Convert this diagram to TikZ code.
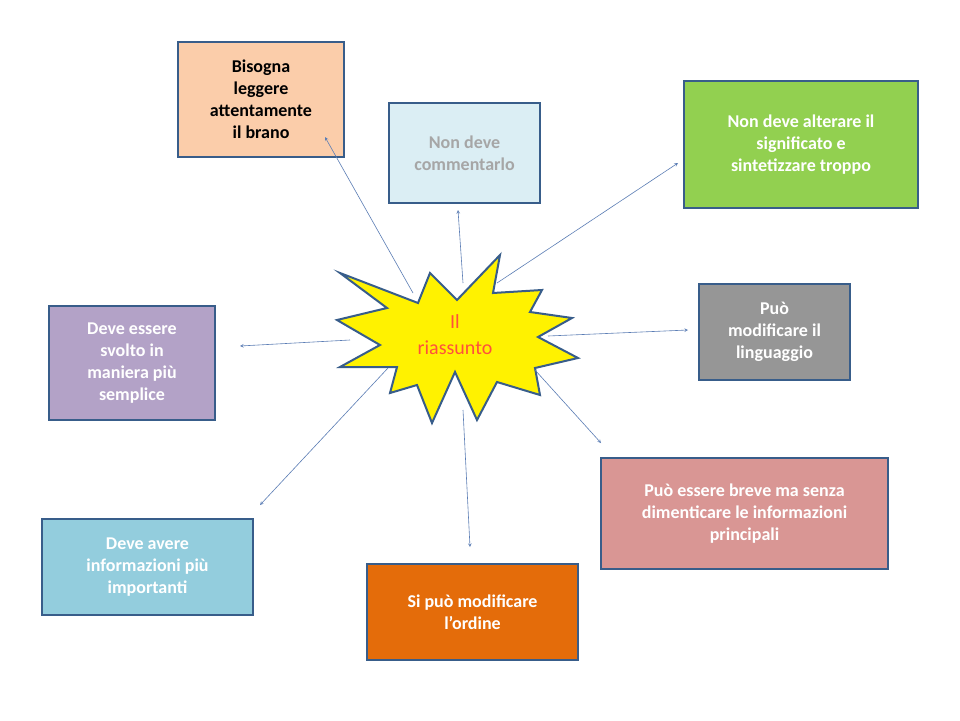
\documentclass[tikz,border=0pt]{standalone}
\usepackage{fontspec}
\setmainfont{Carlito}
\begin{document}
\begin{tikzpicture}[x=1pt,y=-1pt,
 box/.style={draw=bord,line width=1.5pt,align=center,font=\fontsize{18}{22}\selectfont\bfseries,text=white,inner sep=2pt},
 arr/.style={-stealth,draw=arrc,line width=0.6pt}]
\definecolor{bord}{HTML}{385D8A}
\definecolor{arrc}{HTML}{5B7DB5}
\useasboundingbox (0,0) rectangle (960,720);
\fill[white] (0,0) rectangle (960,720);
\node[box,fill={rgb,255:red,251;green,205;blue,170},text=black,minimum width=166pt,minimum height=115pt] (b1) at (261,99.5) {Bisogna\\leggere\\attentamente\\il brano};
\node[box,fill={rgb,255:red,219;green,238;blue,244},text=gray!70,minimum width=151pt,minimum height=100pt] (b2) at (464.5,153) {Non deve\\commentarlo};
\node[box,fill={rgb,255:red,146;green,208;blue,80},minimum width=234pt,minimum height=127pt] (b3) at (801,144.5) {Non deve alterare il\\significato e\\sintetizzare troppo};
\node[box,fill={rgb,255:red,150;green,150;blue,150},minimum width=151pt,minimum height=96pt] (b4) at (774.5,332) {Può\\modificare il\\linguaggio};
\node[box,fill={rgb,255:red,217;green,150;blue,148},minimum width=287pt,minimum height=111pt] (b5) at (744.5,513.5) {Può essere breve ma senza\\dimenticare le informazioni\\principali};
\node[box,fill={rgb,255:red,228;green,108;blue,10},minimum width=211pt,minimum height=96pt] (b6) at (472.5,612) {Si può modificare\\l’ordine};
\node[box,fill={rgb,255:red,147;green,205;blue,221},minimum width=211pt,minimum height=96pt] (b7) at (147.5,567) {Deve avere\\informazioni  più\\importanti};
\node[box,fill={rgb,255:red,179;green,162;blue,199},minimum width=166pt,minimum height=114pt] (b8) at (132,363) {Deve essere\\svolto  in\\maniera più\\semplice};
\draw[draw=bord,line width=2pt,fill=yellow,line join=miter]
 (340,273)--(418,303)--(430,273)--(457,300)--(500,255)--(493,293)--(542,290)--(530,312)--(572,318)--(538,337)--(578,358)--(535,368)--(540,395)--(497,382)--(477,420)--(455,372)--(432,423)--(417,385)--(390,393)--(397,367)--(340,367)--(380,345)--(337,320)--(387,308)--cycle;
\node[align=center,text={rgb,255:red,255;green,80;blue,60},font=\fontsize{20}{26}\selectfont] (c) at (455,335) {Il\\riassunto};
\coordinate (s1) at (413,293); \coordinate (s2) at (463,283); \coordinate (s3) at (497,283);
\coordinate (s4) at (548,336); \coordinate (s5) at (535,370); \coordinate (s6) at (463,410);
\coordinate (s7) at (388,368); \coordinate (s8) at (350,340);
\coordinate (e1) at (325,137); \coordinate (e2) at (458,210); \coordinate (e3) at (678,163);
\coordinate (e4) at (688,330); \coordinate (e5) at (601,443); \coordinate (e6) at (470,547);
\coordinate (e7) at (260,505); \coordinate (e8) at (240,346);
\foreach \i in {1,...,8} \draw[arr] (s\i) -- (e\i);
\end{tikzpicture}
\end{document}
